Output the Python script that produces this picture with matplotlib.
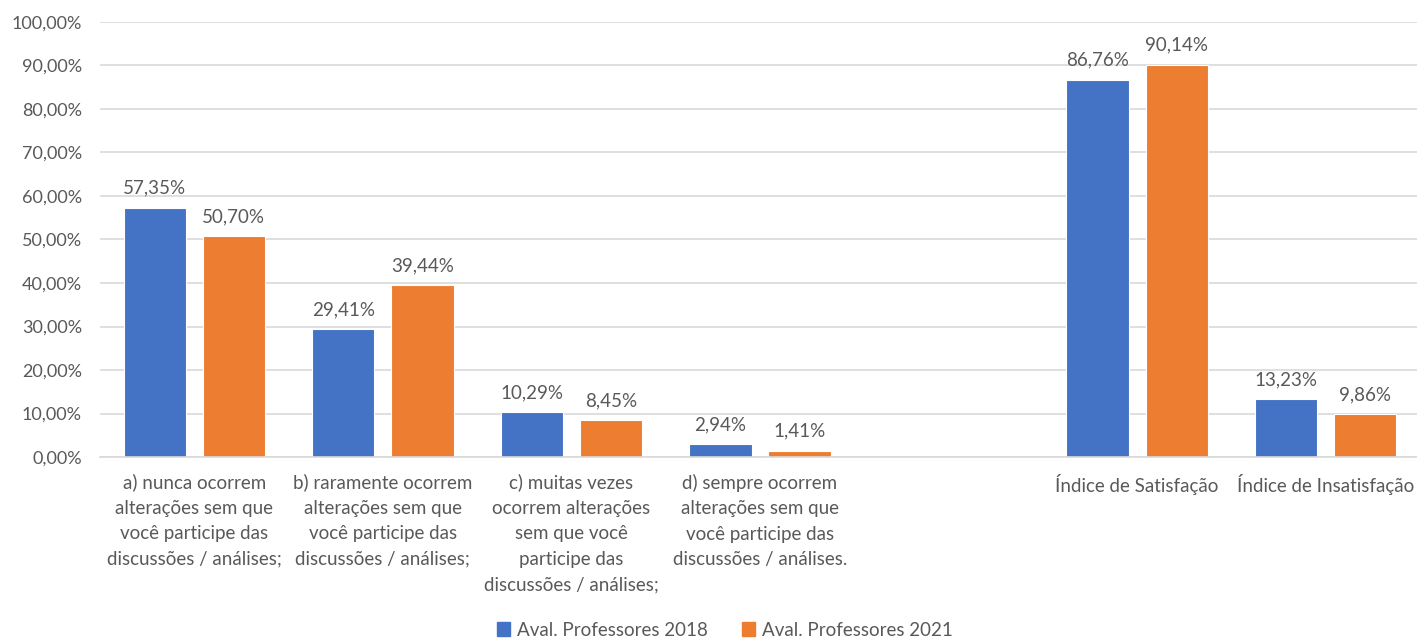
import numpy as np
import matplotlib.pyplot as plt
from matplotlib.patches import Patch

plt.rcParams['font.family'] = ['Lato', 'DejaVu Sans']

categories = [
    "a) nunca ocorrem\nalterações sem que\nvocê participe das\ndiscussões / análises;",
    "b) raramente ocorrem\nalterações sem que\nvocê participe das\ndiscussões / análises;",
    "c) muitas vezes\nocorrem alterações\nsem que você\nparticipe das\ndiscussões / análises;",
    "d) sempre ocorrem\nalterações sem que\nvocê participe das\ndiscussões / análises.",
    "",
    "Índice de Satisfação",
    "Índice de Insatisfação",
]
aval_2018 = [57.35, 29.41, 10.29, 2.94, np.nan, 86.76, 13.23]
aval_2021 = [50.70, 39.44, 8.45, 1.41, np.nan, 90.14, 9.86]
series_names = ["Aval. Professores 2018", "Aval. Professores 2021"]

blue = "#4472C4"
orange = "#ED7D31"
text_col = "#595959"
grid_col = "#D9D9D9"

fig = plt.figure(figsize=(14.17, 6.39), dpi=100)
ax = fig.add_axes([100 / 1417, 1 - 457 / 639, 1320 / 1417, (457 - 22) / 639])

x = np.arange(len(categories))
bw = 0.33
off = 0.21
b1 = ax.bar(x - off, aval_2018, bw, color=blue, edgecolor="white", linewidth=0.8, zorder=3)
b2 = ax.bar(x + off, aval_2021, bw, color=orange, edgecolor="white", linewidth=0.8, zorder=3)

def fmt(v):
    return f"{v:.2f}".replace(".", ",") + "%"

for bars, vals in [(b1, aval_2018), (b2, aval_2021)]:
    for rect, v in zip(bars, vals):
        if np.isnan(v):
            continue
        ax.annotate(fmt(v), (rect.get_x() + rect.get_width() / 2, v),
                    xytext=(0, 8), textcoords="offset points",
                    ha="center", va="bottom", fontsize=13.5, color=text_col)

ax.set_xlim(-0.5, len(categories) - 0.5)
ax.set_ylim(0, 100)
ax.set_yticks(np.arange(0, 101, 10))
ax.set_yticklabels([f"{v},00%" for v in range(0, 101, 10)])
ax.set_xticks(x)
ax.set_xticklabels(categories, linespacing=1.6, fontsize=13.5)
ax.tick_params(axis="both", length=0, labelcolor=text_col)
ax.tick_params(axis="y", pad=13, labelsize=13)
ax.tick_params(axis="x", pad=12)
ax.grid(axis="y", color=grid_col, linewidth=1.2, zorder=0)
for s in ["top", "right", "left"]:
    ax.spines[s].set_visible(False)
ax.spines["bottom"].set_color(grid_col)
ax.spines["bottom"].set_linewidth(1.2)
ax.spines["bottom"].set_zorder(4)

handles = [Patch(color=blue), Patch(color=orange)]
fig.legend(handles, series_names, loc="center", bbox_to_anchor=(725 / 1417, 1 - 630 / 639),
           ncol=2, frameon=False, fontsize=13.5, labelcolor=text_col,
           handlelength=0.7, handleheight=0.7, handletextpad=0.4, columnspacing=1.8)

fig.savefig("out.png", dpi=100, facecolor="white")
